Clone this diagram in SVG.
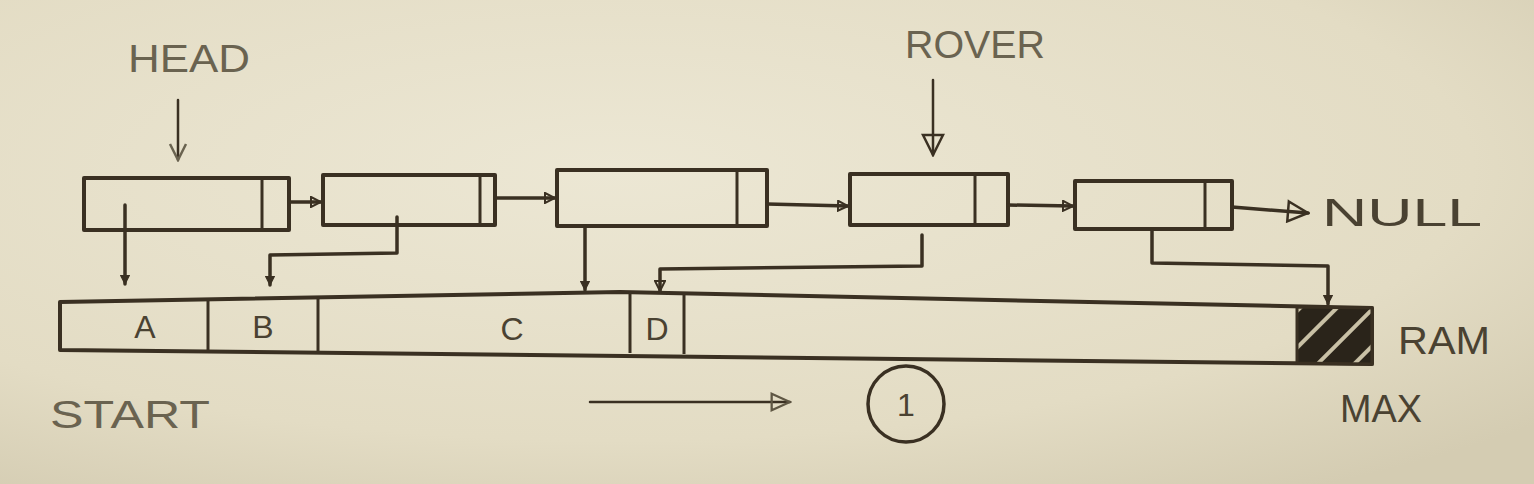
<svg xmlns="http://www.w3.org/2000/svg" width="1534" height="484" viewBox="0 0 1534 484">
<defs>
<radialGradient id="paper" cx="0.4" cy="0.35" r="0.8">
<stop offset="0" stop-color="#ece7d4"/>
<stop offset="0.7" stop-color="#e3dcc4"/>
<stop offset="1" stop-color="#d4ccb2"/>
</radialGradient>
<marker id="tri" viewBox="0 0 12 12" refX="11" refY="6" markerWidth="12" markerHeight="12" markerUnits="userSpaceOnUse" orient="auto">
<path d="M1,1 L11,6 L1,11 Z" fill="none" stroke="#3a3022" stroke-width="2"/>
</marker>
<marker id="triS" viewBox="0 0 12 12" refX="11" refY="6" markerWidth="10" markerHeight="10" markerUnits="userSpaceOnUse" orient="auto">
<path d="M1,1 L11,6 L1,11 Z" fill="#3a3022" stroke="#3a3022" stroke-width="1.5"/>
</marker>
<marker id="triBig" viewBox="0 0 24 24" refX="22" refY="12" markerWidth="24" markerHeight="24" markerUnits="userSpaceOnUse" orient="auto">
<path d="M2,2 L22,12 L2,22 Z" fill="none" stroke="#3a3022" stroke-width="2.5"/>
</marker>
<marker id="vee" viewBox="0 0 20 20" refX="18" refY="10" markerWidth="20" markerHeight="20" markerUnits="userSpaceOnUse" orient="auto">
<path d="M2,2 L18,10 L2,18" fill="none" stroke="#6a6350" stroke-width="2.5"/>
</marker>
<marker id="triGray" viewBox="0 0 24 24" refX="22" refY="12" markerWidth="22" markerHeight="22" markerUnits="userSpaceOnUse" orient="auto">
<path d="M2,3 L22,12 L2,21 Z" fill="none" stroke="#5f5744" stroke-width="2.5"/>
</marker>
<pattern id="hatch" patternUnits="userSpaceOnUse" width="26" height="26" patternTransform="rotate(-45)">
<rect width="26" height="26" fill="#2a241a"/>
<rect x="0" y="17" width="26" height="4" fill="#c9c1a6"/>
</pattern>
<style>
.box{fill:none;stroke:#3a3022;stroke-width:4;stroke-linejoin:round}
.div{stroke:#3a3022;stroke-width:3}
.ink{fill:none;stroke:#3a3022;stroke-width:3.5;stroke-linecap:round;stroke-linejoin:round}
.thin{fill:none;stroke:#3a3022;stroke-width:2.5;stroke-linecap:round}
.lbl{font-family:"Liberation Sans",Arial,sans-serif;font-size:38px;fill:#6a6350}
.lbl2{font-family:"Liberation Sans",Arial,sans-serif;font-size:38px;fill:#4a4232}
.cell{font-family:"Liberation Sans",Arial,sans-serif;font-size:32px;fill:#4a4232;text-anchor:middle}
</style>
</defs>
<rect width="1534" height="484" fill="url(#paper)"/>

<g id="head-label">
<text class="lbl" x="128" y="72" textLength="122" lengthAdjust="spacingAndGlyphs">HEAD</text>
<line class="thin" x1="178" y1="100" x2="178" y2="160" stroke="#6a6350" marker-end="url(#vee)"/>
</g>
<g id="rover-label">
<text class="lbl" x="905" y="58" textLength="140" lengthAdjust="spacingAndGlyphs">ROVER</text>
<line class="thin" x1="933" y1="80" x2="933" y2="155" marker-end="url(#triBig)"/>
</g>

<g id="node1">
<rect class="box" x="84" y="178" width="205" height="52"/>
<line class="div" x1="262" y1="178" x2="262" y2="230"/>
</g>
<g id="node2">
<rect class="box" x="323" y="175" width="172" height="50"/>
<line class="div" x1="480" y1="175" x2="480" y2="225"/>
</g>
<g id="node3">
<rect class="box" x="557" y="170" width="210" height="56"/>
<line class="div" x1="737" y1="170" x2="737" y2="226"/>
</g>
<g id="node4">
<rect class="box" x="850" y="174" width="158" height="51"/>
<line class="div" x1="975" y1="174" x2="975" y2="225"/>
</g>
<g id="node5">
<rect class="box" x="1075" y="181" width="157" height="48"/>
<line class="div" x1="1205" y1="181" x2="1205" y2="229"/>
</g>
<g id="null-label">
<text class="lbl2" x="1322" y="226" textLength="160" lengthAdjust="spacingAndGlyphs">NULL</text>
</g>

<g id="ram">
<path class="box" d="M60,302 L620,292 L1372,308 L1372,364 L60,350 Z"/>
<line class="div" x1="208" y1="299" x2="208" y2="351"/>
<line class="div" x1="318" y1="297" x2="318" y2="352"/>
<line class="div" x1="630" y1="292" x2="630" y2="353"/>
<line class="div" x1="684" y1="293" x2="684" y2="354"/>
<path d="M1297,307 L1372,308 L1372,364 L1297,363 Z" fill="url(#hatch)" stroke="#3a3022" stroke-width="3"/>
<text class="cell" x="145" y="338">A</text>
<text class="cell" x="263" y="338">B</text>
<text class="cell" x="512" y="340" font-size="40">C</text>
<text class="cell" x="657" y="340" font-size="24">D</text>
<text class="lbl2" x="1398" y="354" textLength="92" lengthAdjust="spacingAndGlyphs">RAM</text>
<text class="lbl2" x="1340" y="422" font-size="32" textLength="82" lengthAdjust="spacingAndGlyphs">MAX</text>
<text class="lbl" x="50" y="428" textLength="160" lengthAdjust="spacingAndGlyphs">START</text>
</g>

<g id="step">
<circle cx="906" cy="404" r="38" fill="none" stroke="#3a3022" stroke-width="3.5"/>
<text class="cell" x="906" y="416" font-size="32">1</text>
</g>

<g id="connectors">
<line class="ink" x1="289" y1="202" x2="321" y2="202" marker-end="url(#tri)"/>
<line class="ink" x1="495" y1="198" x2="555" y2="198" marker-end="url(#tri)"/>
<line class="ink" x1="767" y1="204" x2="848" y2="206" marker-end="url(#tri)"/>
<line class="ink" x1="1008" y1="205" x2="1073" y2="206" marker-end="url(#tri)"/>
<line class="ink" x1="1232" y1="207" x2="1308" y2="213" marker-end="url(#triBig)"/>
<polyline class="ink" points="125,205 125,284" marker-end="url(#triS)"/>
<polyline class="ink" points="397,217 397,253 270,255 270,285" marker-end="url(#triS)"/>
<polyline class="ink" points="585,226 585,290" marker-end="url(#triS)"/>
<polyline class="ink" points="922,235 922,266 660,269 660,291" marker-end="url(#tri)"/>
<polyline class="ink" points="1152,230 1152,263 1328,266 1328,304" marker-end="url(#triS)"/>
<line class="thin" x1="590" y1="402" x2="790" y2="402" stroke="#5f5744" marker-end="url(#triGray)"/>
</g>
</svg>
